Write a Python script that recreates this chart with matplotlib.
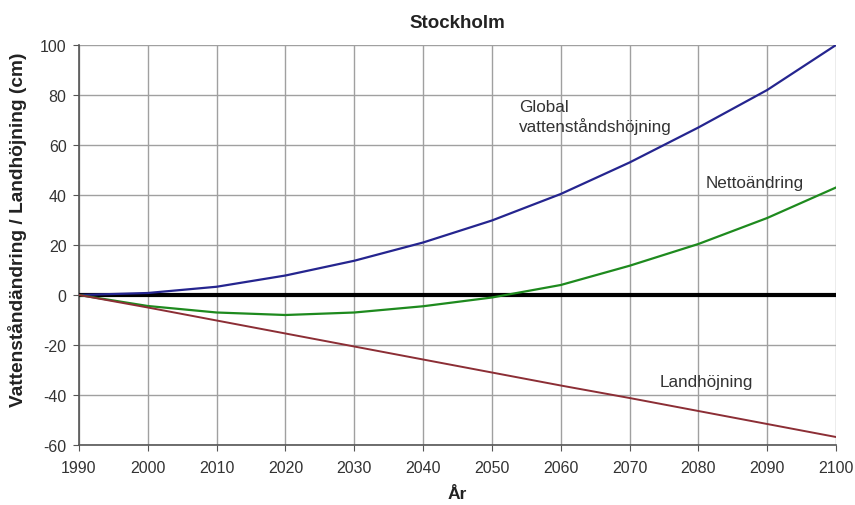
import matplotlib
matplotlib.use("Agg")
import matplotlib.pyplot as plt

years = [1990, 2000, 2010, 2020, 2030, 2040, 2050, 2060, 2070, 2080, 2090, 2100]
global_rise = [0, 0.8, 3.3, 7.8, 13.7, 21.0, 29.8, 40.4, 53.0, 67.0, 82.0, 100.0]
net_change = [0, -4.4, -7.0, -8.0, -7.0, -4.5, -1.0, 4.0, 11.7, 20.4, 30.8, 43.0]
land_uplift = [0, -5.0, -10.2, -15.4, -20.6, -25.8, -31.0, -36.2, -41.2, -46.4, -51.6, -56.8]

xticks = list(range(1990, 2101, 10))
yticks = list(range(-60, 101, 20))

plt.rcParams['font.family'] = ['Liberation Sans', 'DejaVu Sans']
plt.rcParams['axes.unicode_minus'] = False

fig = plt.figure(figsize=(8.55, 5.06), dpi=100)
ax = fig.add_axes([79/855, 1-446/506, (836-79)/855, 400/506])

ax.axhline(0, color='black', lw=3, zorder=3)
ax.plot(years, global_rise, color='#25258f', lw=1.6, zorder=4)
ax.plot(years, net_change, color='#1e8a1e', lw=1.6, zorder=4)
ax.plot(years, land_uplift, color='#8c2e35', lw=1.4, zorder=4)

ax.set_xlim(1990, 2100)
ax.set_ylim(-60, 100)
ax.set_xticks(xticks)
ax.set_yticks(yticks)
ax.grid(True, color='#a0a0a0', lw=1.0)
ax.set_axisbelow(True)
for s in ['top', 'right']:
    ax.spines[s].set_visible(False)
for s in ['left', 'bottom']:
    ax.spines[s].set_color('#555555')
    ax.spines[s].set_linewidth(1.2)
ax.tick_params(direction='out', length=4, color='#555555', labelsize=11.5,
               labelcolor='#333333', pad=5)
ax.tick_params(axis='x', pad=7)

ax.set_title('Stockholm', fontsize=13.5, fontweight='bold', color='#222222', pad=13)
ax.set_xlabel('År', fontsize=12.5, fontweight='bold', color='#222222')
ax.xaxis.set_label_coords((457-79)/757, (446-487)/400)
ax.set_ylabel('Vattenståndändring / Landhöjning (cm)', fontsize=13.8,
              fontweight='bold', color='#222222')
ax.yaxis.set_label_coords((27-79)/757, (446-230)/400)

ax.text(2054, 71.4, 'Global\nvattenståndshöjning', fontsize=12.3,
        color='#333333', ha='left', va='center', linespacing=1.25)
ax.text(2081, 45, 'Nettoändring', fontsize=12.3, color='#333333',
        ha='left', va='center')
ax.text(2074.4, -34.5, 'Landhöjning', fontsize=12.3, color='#333333',
        ha='left', va='center')

fig.savefig('out.png', dpi=100)
